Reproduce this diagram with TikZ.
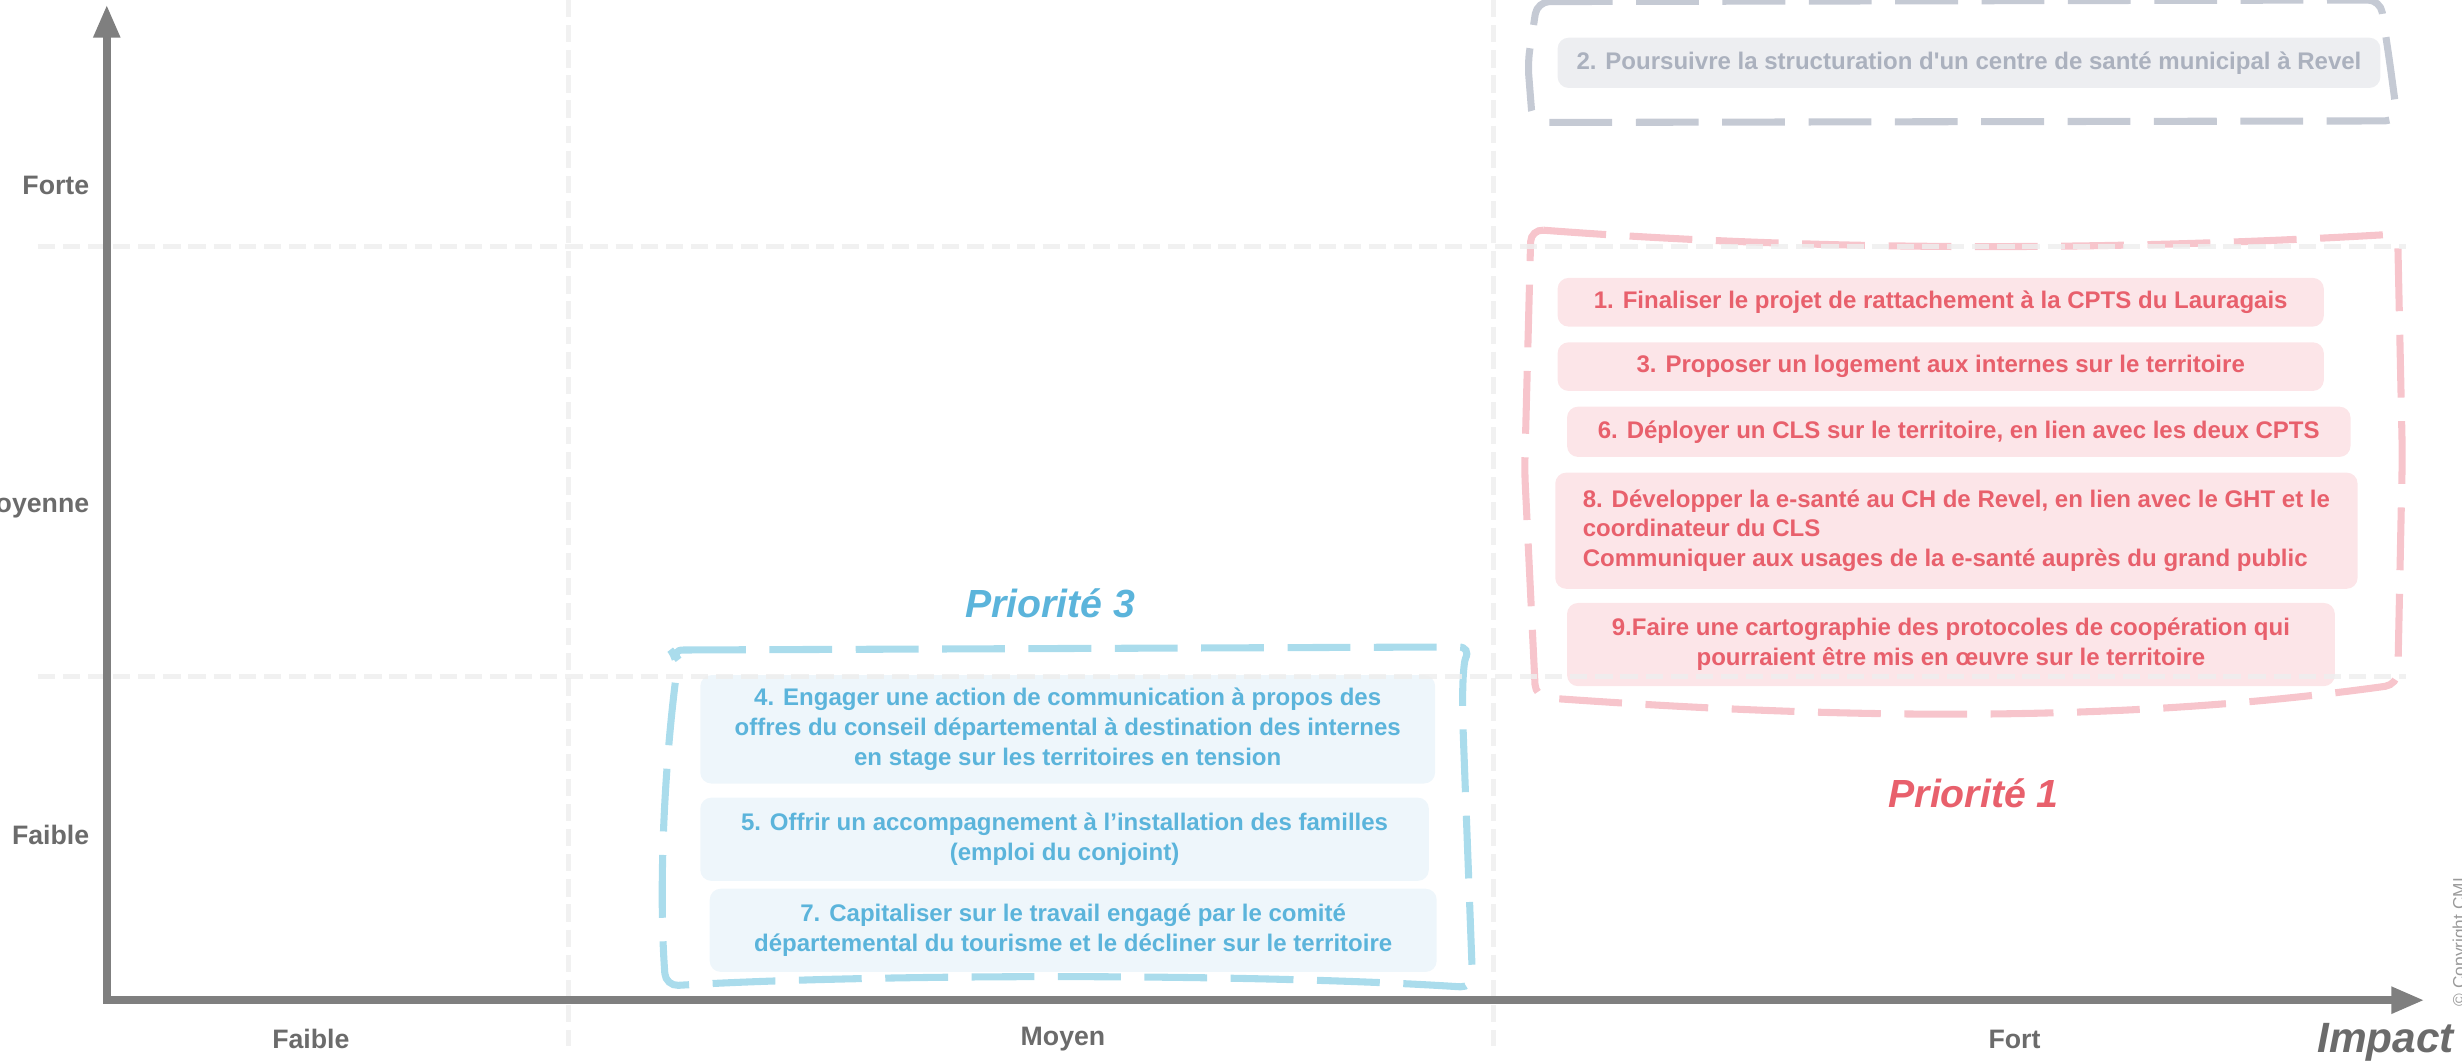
\documentclass[tikz,border=0pt]{standalone}
\usepackage{fontspec}
\setmainfont{Liberation Sans}
\usetikzlibrary{arrows.meta}

\definecolor{axisgray}{HTML}{7F7F7F}
\definecolor{labgray}{HTML}{6B6B6B}
\definecolor{gridgray}{HTML}{EEEEEE}
\definecolor{grayline}{HTML}{C5CAD4}
\definecolor{grayfill}{HTML}{EDEEF1}
\definecolor{graytext}{HTML}{ABB1BE}
\definecolor{redline}{HTML}{F7C5CC}
\definecolor{redfill}{HTML}{FCE5E8}
\definecolor{redtext}{HTML}{E8606C}
\definecolor{blueline}{HTML}{AADCEC}
\definecolor{bluefill}{HTML}{EEF6FB}
\definecolor{bluetext}{HTML}{5BB4DB}
\definecolor{copygray}{HTML}{9A9A9A}

\begin{document}
\begin{tikzpicture}[x=1pt,y=-1pt,
  actbox/.style={rounded corners=7pt, inner sep=0pt, align=center,
    font=\fontsize{15.3}{19}\selectfont\bfseries},
  redbox/.style={actbox, fill=redfill, text=redtext},
  bluebox/.style={actbox, fill=bluefill, text=bluetext},
  graybox/.style={actbox, fill=grayfill, text=graytext},
  grouprim/.style={line width=4.5pt, dash pattern=on 40pt off 15pt, rounded corners=8pt},
  gridline/.style={gridgray, line width=3pt, dash pattern=on 11pt off 5pt, opacity=0.85},
  axisline/.style={axisgray, line width=5pt,
    {Triangle[length=21pt,width=16pt]}-{Triangle[length=21pt,width=16pt]}},
  axislab/.style={text=labgray, inner sep=0pt, font=\fontsize{17}{20}\selectfont\bfseries},
  prio/.style={inner sep=0pt, font=\fontsize{25}{29}\selectfont\bfseries\itshape},
]
\useasboundingbox (0,0) rectangle (1568,677);

% action boxes
\node[graybox, minimum width=524pt, minimum height=32pt] (a2) at (1254,40)
  {2. Poursuivre la structuration d\textquotesingle un centre de santé municipal à Revel};

\node[redbox, minimum width=488pt, minimum height=31pt] (a1) at (1236,192.5)
  {1. Finaliser le projet de rattachement à la CPTS du Lauragais};
\node[redbox, minimum width=488pt, minimum height=31pt] (a3) at (1236,233.5)
  {3. Proposer un logement aux internes sur le territoire};
\node[redbox, minimum width=499pt, minimum height=32pt] (a6) at (1247.5,275)
  {6. Déployer un CLS sur le territoire, en lien avec les deux CPTS};
\node[redbox, align=left, minimum width=511pt, minimum height=74pt] (a8) at (1246,338)
  {8. Développer la e-santé au CH de Revel, en lien avec le GHT et le\\coordinateur du CLS\\Communiquer aux usages de la e-santé auprès du grand public};
\node[redbox, minimum width=489pt, minimum height=53pt] (a9) at (1242.5,410.5)
  {9.Faire une cartographie des protocoles de coopération qui\\pourraient être mis en œuvre sur le territoire};

\node[bluebox, minimum width=468pt, minimum height=69pt] (a4) at (680,464.5)
  {4. Engager une action de communication à propos des\\offres du conseil départemental à destination des internes\\en stage sur les territoires en tension};
\node[bluebox, minimum width=464pt, minimum height=53pt] (a5) at (678,534.5)
  {5. Offrir un accompagnement à l’installation des familles\\(emploi du conjoint)};
\node[bluebox, minimum width=463pt, minimum height=53pt] (a7) at (683.5,592.5)
  {7. Capitaliser sur le travail engagé par le comité\\départemental du tourisme et le décliner sur le territoire};

% group outlines
\draw[grouprim, grayline] (979,1) -- (1516,0) -- (1522,40) -- (1527,77) -- (976,78) -- (973,40) -- cycle;
\draw[grouprim, redline] (975,146) .. controls (1160,160) and (1340,160) .. (1527,149)
  -- (1530,290) -- (1527,436) .. controls (1340,462) and (1160,457) .. (978,444)
  -- (971,300) -- cycle;
\draw[grouprim, blueline] (427,414) -- (937,412) .. controls (932,422) and (931,440) .. (932,470)
  -- (938,629) .. controls (800,620) and (560,620) .. (424,628)
  .. controls (419,560) and (424,480) .. (432,420) -- cycle;

% grid
\coordinate (g1t) at (362,0);   \coordinate (g1b) at (362,666);
\coordinate (g2t) at (951,0);   \coordinate (g2b) at (951,666);
\coordinate (h1l) at (24,157);  \coordinate (h1r) at (1532,157);
\coordinate (h2l) at (24,431);  \coordinate (h2r) at (1532,431);
\draw[gridline] (g1t) -- (g1b);
\draw[gridline] (g2t) -- (g2b);
\draw[gridline] (h1l) -- (h1r);
\draw[gridline] (h2l) -- (h2r);

% axes
\coordinate (O) at (68,637);
\coordinate (ytip) at (68,3);
\coordinate (xtip) at (1544,637);
\draw[axisline] (ytip) -- (O) -- (xtip);

% axis labels
\node[axislab, anchor=east] (yforte) at (57,118) {Forte};
\node[axislab, anchor=east] (ymoy) at (57,322) {Moyenne};
\node[axislab, anchor=east] (yfaib) at (57,532) {Faible};
\node[axislab] (xfaib) at (198,662) {Faible};
\node[axislab] (xmoy) at (677,662) {Moyen};
\node[axislab] (xfort) at (1283,662) {Fort};
\node[inner sep=0pt, anchor=east, text=labgray, font=\fontsize{27}{31}\selectfont\bfseries\itshape] (impact) at (1563,664) {Impact};

% priorities
\node[prio, text=bluetext] (p3) at (669,384) {Priorité 3};
\node[prio, text=redtext] (p1) at (1257,505) {Priorité 1};

% copyright
\node[rotate=90, anchor=base, inner sep=0pt, text=copygray, font=\fontsize{11}{13}\selectfont] (copy) at (1570,600) {© Copyright CMI};
\end{tikzpicture}
\end{document}
